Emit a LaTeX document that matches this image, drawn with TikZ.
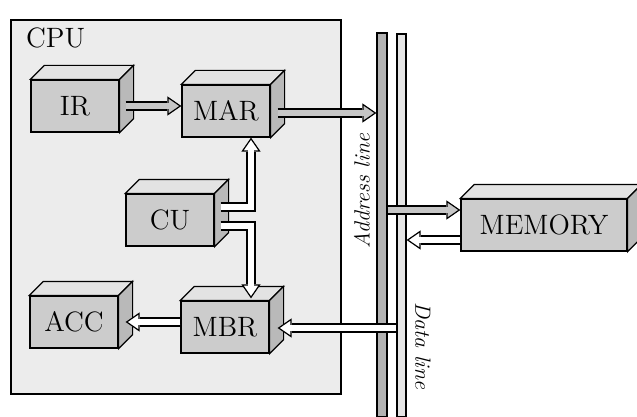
\documentclass[tikz,border=0pt]{standalone}
\usetikzlibrary{arrows.meta,calc,positioning}

% wide outlined arrow between two named coordinates
\newcommand{\fatarrow}[3]{%
  \draw[fathead=#3] ($(#2)!7pt!(#1)$) -- (#2);
  \draw[fat=#3] (#1) -- ($(#2)!7pt!(#1)$);
}

\begin{document}
\begin{tikzpicture}[
    x=0.5pt, y=-0.5pt,
    unit/.style={rectangle, draw, line width=0.6pt, fill=gray!40, minimum width=44pt, minimum height=26pt, inner sep=0pt, font=\fontsize{14}{16}\selectfont},
    bus/.style={rectangle, draw, line width=0.6pt, inner sep=0pt},
    fat/.style={line width=4.6pt, draw=black, postaction={draw=#1, line width=3.4pt, shorten >=-1pt}},
    fathead/.style={line width=0.6pt, -{Triangle[length=7pt, width=9.5pt, fill=#1]}},
    lbl/.style={font=\fontsize{11}{13}\selectfont\itshape},
]
\useasboundingbox (0,0) rectangle (637,417);

% CPU area
\draw[line width=0.8pt, fill=gray!15] (11,20) rectangle (341,394);
\node[anchor=west, font=\fontsize{14}{16}\selectfont] (cpulbl) at (19,38) {CPU};

% Buses
\node[bus, fill=gray!60, minimum width=5pt, minimum height=192pt] (addr) at (382,225) {};
\node[bus, fill=gray!20, minimum width=4.5pt, minimum height=191.5pt] (data) at (401.5,225.5) {};
\node[lbl, rotate=90] (addrlbl) at (362,191) {Address line};
\node[lbl, rotate=-90] (datalbl) at (423,346) {Data line};

% Units
\node[unit] (ir) at (75,106) {IR};
\node[unit] (mar) at (226,111) {MAR};
\node[unit] (cu) at (170,220) {CU};
\node[unit] (acc) at (74,322) {ACC};
\node[unit] (mbr) at (225,327) {MBR};
\node[unit, minimum width=83pt] (mem) at (544,225) {MEMORY};

% top and side faces
\foreach \b in {ir,mar,cu,acc,mbr,mem} {
  \filldraw[line width=0.6pt, fill=gray!22] (\b.north west) -- ++(14,-14) -- ($(\b.north east)+(14,-14)$) -- (\b.north east) -- cycle;
  \filldraw[line width=0.6pt, fill=gray!55] (\b.north east) -- ++(14,-14) -- ($(\b.south east)+(14,-14)$) -- (\b.south east) -- cycle;
}

% Connections
\coordinate (a1) at ($(ir.east)+(6,0)$);
\coordinate (a2) at (a1 -| mar.west);
\coordinate (b1) at ($(mar.east)+(7,2)$);
\coordinate (b2) at (b1 -| addr.west);
\coordinate (c1) at ($(mbr.west)+(0,-5)$);
\coordinate (c2) at ($(c1 -| acc.east)+(7,0)$);
\coordinate (d2) at ($(mbr.east)+(8,1)$);
\coordinate (d1) at (d2 -| data.west);
\coordinate (e2) at ($(mem.west)+(0,-15)$);
\coordinate (e1) at (e2 -| addr.east);
\coordinate (f1) at ($(mem.west)+(0,15)$);
\coordinate (f2) at (f1 -| data.east);

\fatarrow{a1}{a2}{gray!45}
\fatarrow{b1}{b2}{gray!45}
\fatarrow{c1}{c2}{white}
\fatarrow{d1}{d2}{white}
\fatarrow{e1}{e2}{gray!45}
\fatarrow{f1}{f2}{white}

% CU to MAR and MBR
\coordinate (g1) at ($(cu.east)+(6,-13)$);
\coordinate (g3) at ($(mar.south)+(25,0)$);
\coordinate (g2) at ($(g3)+(0,14)$);
\draw[fathead=white] (g2) -- (g3);
\draw[fat=white] (g1) -| (g2);

\coordinate (h1) at ($(cu.east)+(6,6)$);
\coordinate (h3) at ($(mbr.north)+(26,-2)$);
\coordinate (h2) at ($(h3)+(0,-14)$);
\draw[fathead=white] (h2) -- (h3);
\draw[fat=white] (h1) -| (h2);

\end{tikzpicture}
\end{document}
